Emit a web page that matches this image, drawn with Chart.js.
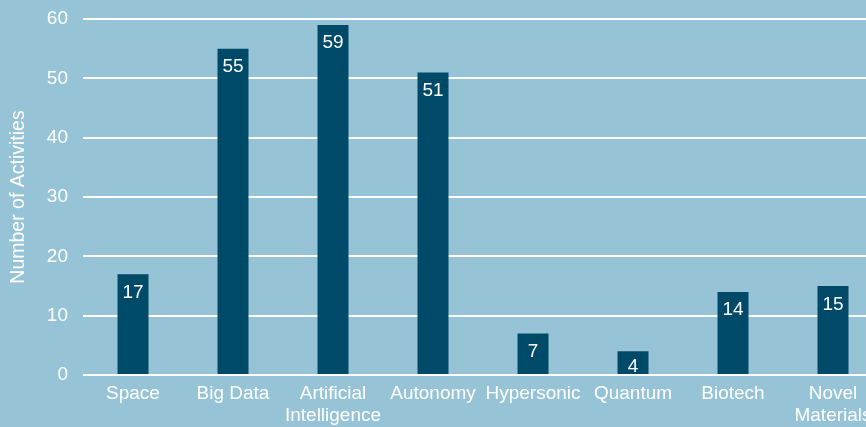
<!DOCTYPE html>
<html>
<head>
    <meta charset="UTF-8">
    <title>Number of Activities</title>
    <script src="https://cdn.jsdelivr.net/npm/chart.js@4/dist/chart.umd.min.js"></script>
    <style>
        html, body {
            margin: 0;
            padding: 0;
            overflow: hidden;
            background: #96c4d6;
        }

        #holder {
            width: 890px;
            height: 427px;
            background: #96c4d6;
        }
    </style>
</head>
<body>
    <div id="holder">
        <canvas id="chart-area" width="890" height="427"></canvas>
    </div>

    <script>
        // data
        var categories = ['Space', 'Big Data', ['Artificial', 'Intelligence'], 'Autonomy', 'Hypersonic', 'Quantum', 'Biotech', ['Novel', 'Materials']];
        var activities = [17, 55, 59, 51, 7, 4, 14, 15];
        var yTicks = [0, 10, 20, 30, 40, 50, 60];

        var barColor = '#004a69';
        var textColor = '#ffffff';
        var fontFamily = 'Arial, "Liberation Sans", sans-serif';

        // values written inside the top of each bar
        var barLabels = {
            id: 'barLabels',
            afterDatasetsDraw: function (chart) {
                var ctx = chart.ctx;
                var meta = chart.getDatasetMeta(0);
                var base = chart.scales.y.getPixelForValue(0);
                ctx.save();
                ctx.fillStyle = textColor;
                ctx.font = '19px ' + fontFamily;
                ctx.textAlign = 'center';
                ctx.textBaseline = 'alphabetic';
                meta.data.forEach(function (bar, i) {
                    var y = Math.min(bar.y + 23.5, base - 3);
                    ctx.fillText(String(activities[i]), bar.x, y);
                });
                ctx.restore();
            }
        };

        var config = {
            type: 'bar',
            data: {
                labels: categories,
                datasets: [{
                    label: 'Number of Activities',
                    data: activities,
                    backgroundColor: barColor,
                    borderWidth: 0,
                    categoryPercentage: 1,
                    barPercentage: 0.31
                }]
            },
            options: {
                responsive: false,
                animation: false,
                layout: {
                    padding: { left: 0, top: 19, right: 7, bottom: 0 }
                },
                plugins: {
                    legend: { display: false },
                    tooltip: { enabled: false }
                },
                scales: {
                    x: {
                        grid: { display: false, drawTicks: false },
                        border: { display: false },
                        ticks: {
                            color: textColor,
                            font: { size: 19, family: fontFamily },
                            padding: 7,
                            maxRotation: 0,
                            autoSkip: false
                        },
                        afterFit: function (scale) {
                            scale.height = 52;
                            scale.paddingLeft = 0;
                            scale.paddingRight = 0;
                        }
                    },
                    y: {
                        min: 0,
                        max: 60,
                        grid: { color: '#ffffff', lineWidth: 2, drawTicks: false },
                        border: { display: false },
                        afterBuildTicks: function (scale) {
                            scale.ticks = yTicks.map(function (v) { return { value: v }; });
                        },
                        ticks: {
                            color: textColor,
                            font: { size: 19, family: fontFamily },
                            padding: 15
                        },
                        title: {
                            display: true,
                            text: 'Number of Activities',
                            color: textColor,
                            font: { size: 19.5, family: fontFamily },
                            padding: { top: 7, bottom: 0 }
                        },
                        afterFit: function (scale) {
                            scale.width = 83;
                            scale.paddingTop = 0;
                            scale.paddingBottom = 0;
                        }
                    }
                }
            },
            plugins: [barLabels]
        };

        window.onload = function () {
            var ctx = document.getElementById('chart-area').getContext('2d');
            window.grafico = new Chart(ctx, config);
        };
    </script>
</body>
</html>
